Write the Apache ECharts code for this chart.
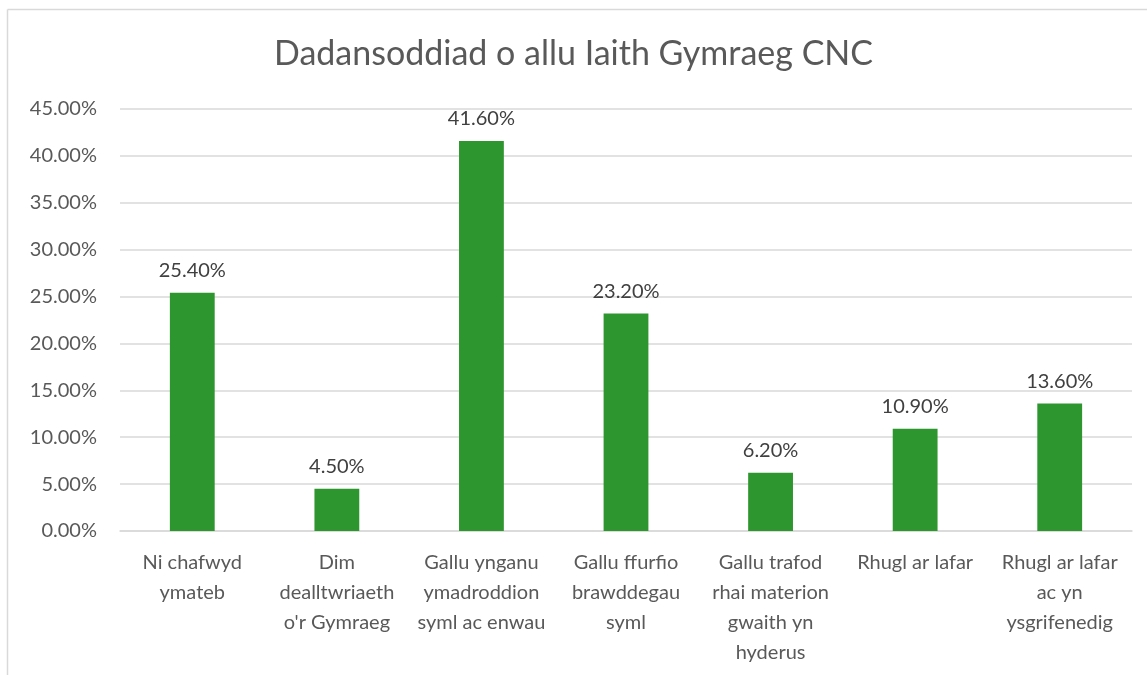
<!DOCTYPE html>
<html>
<head>
<meta charset="utf-8">
<script src="https://cdn.jsdelivr.net/npm/echarts@6/dist/echarts.min.js"></script>
<style>html,body{margin:0;padding:0;background:#fff;}#c{width:1147px;height:675px;}</style>
</head>
<body>
<div id="c"></div>
<script>
const title = 'Dadansoddiad o allu Iaith Gymraeg CNC';
const categories = [
  'Ni chafwyd\nymateb',
  'Dim\ndealltwriaeth\no\'r Gymraeg',
  'Gallu ynganu\nymadroddion\nsyml ac enwau',
  'Gallu ffurfio\nbrawddegau\nsyml',
  'Gallu trafod\nrhai materion\ngwaith yn\nhyderus',
  'Rhugl ar lafar',
  'Rhugl ar lafar\nac yn\nysgrifenedig'
];
const values = [25.4, 4.5, 41.6, 23.2, 6.2, 10.9, 13.6];
const yMin = 0, yMax = 45, yStep = 5;

const font = 'Lato, "Open Sans", sans-serif';
const chart = echarts.init(document.getElementById('c'), null, {renderer: 'canvas'});
chart.setOption({
  animation: false,
  backgroundColor: '#fff',
  title: {
    text: title, left: 'center', top: 32,
    textStyle: {fontFamily: font, fontSize: 34, fontWeight: 'normal', color: '#595959'}
  },
  graphic: [
    {type: 'line', shape: {x1: 7.5, y1: 9.5, x2: 1147, y2: 9.5}, style: {stroke: '#d9d9d9', lineWidth: 1.5}},
    {type: 'line', shape: {x1: 7.5, y1: 9.5, x2: 7.5, y2: 675}, style: {stroke: '#d9d9d9', lineWidth: 1.5}}
  ],
  grid: {left: 120, right: 15, top: 109, bottom: 144, containLabel: false},
  xAxis: {
    type: 'category', data: categories,
    axisLine: {show: true, lineStyle: {color: '#d9d9d9', width: 1.5}},
    axisTick: {show: false},
    axisLabel: {interval: 0, margin: 17, lineHeight: 30, fontFamily: font, fontSize: 20, color: '#595959'}
  },
  yAxis: {
    type: 'value', min: yMin, max: yMax, interval: yStep,
    axisLine: {show: false}, axisTick: {show: false},
    splitLine: {lineStyle: {color: '#d9d9d9', width: 1.5}},
    axisLabel: {margin: 23, fontFamily: font, fontSize: 20, color: '#595959',
      formatter: v => v.toFixed(2) + '%'}
  },
  series: [{
    type: 'bar', data: values, barWidth: '31%',
    itemStyle: {color: '#2e962e'},
    label: {show: true, position: 'top', distance: 12, fontFamily: font, fontSize: 20, color: '#404040',
      formatter: p => p.value.toFixed(2) + '%'}
  }]
});
</script>
</body>
</html>
